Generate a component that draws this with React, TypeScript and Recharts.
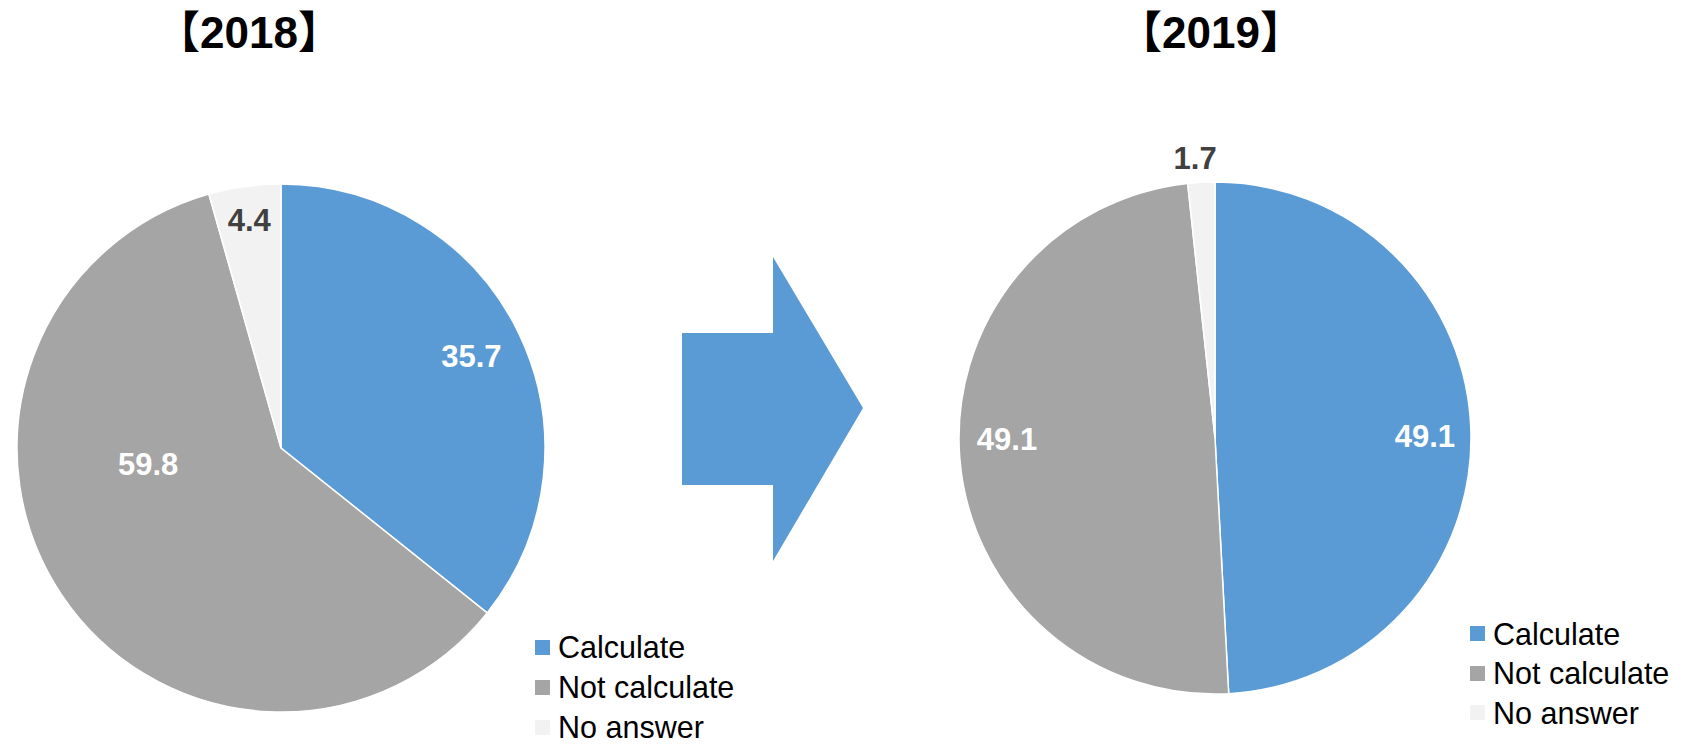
import React from 'react';
import { PieChart, Pie, Cell, Legend } from 'recharts';

const CATEGORIES = ['Calculate', 'Not calculate', 'No answer'];
const VALUES_2018 = [35.7, 59.8, 4.4];
const VALUES_2019 = [49.1, 49.1, 1.7];
const TITLES = ['【2018】', '【2019】'];
const COLORS = ['#5B9BD5', '#A5A5A5', '#F2F2F2'];
const LABEL_COLORS = ['#FFFFFF', '#FFFFFF', '#404040'];

const FONT = '"Liberation Sans", Arial, "Noto Sans CJK JP", sans-serif';
const RAD = Math.PI / 180;

type Placement = { f: number; d: number };

function makeData(values: number[]) {
  return CATEGORIES.map((name, i) => ({ name, value: values[i] }));
}

function makeLabel(place: Placement[]) {
  return (props: any) => {
    const { cx, cy, midAngle, outerRadius, index, value } = props;
    const p = place[index];
    const a = (midAngle + p.d) * RAD;
    const r = outerRadius * p.f;
    const x = cx + r * Math.cos(a);
    const y = cy - r * Math.sin(a);
    return (
      <text
        x={x}
        y={y}
        textAnchor="middle"
        dominantBaseline="central"
        fill={LABEL_COLORS[index]}
        fontFamily={FONT}
        fontWeight="bold"
        fontSize={31}
      >
        {value.toFixed(1)}
      </text>
    );
  };
}

function makeLegend(rowH: number) {
  const inner = 24;
  return (props: any) => {
    const payload = [...(props.payload || [])].sort(
      (a: any, b: any) => CATEGORIES.indexOf(a.value) - CATEGORIES.indexOf(b.value)
    );
    return (
      <div style={{ fontFamily: FONT }}>
        {payload.map((e: any, i: number) => (
          <div
            key={i}
            style={{
              display: 'flex',
              alignItems: 'center',
              height: inner,
              marginTop: i === 0 ? (rowH - inner) / 2 : rowH - inner,
            }}
          >
            <span style={{ display: 'inline-block', width: 15, height: 15, background: e.color, marginRight: 8 }} />
            <span style={{ fontSize: 30.5, lineHeight: `${inner}px`, color: '#000', whiteSpace: 'nowrap' }}>{e.value}</span>
          </div>
        ))}
      </div>
    );
  };
}

function PieBlock(props: {
  values: number[];
  left: number;
  width: number;
  cx: number;
  cy: number;
  r: number;
  place: Placement[];
  legendLeft: number;
  legendTop: number;
  rowH: number;
}) {
  const data = makeData(props.values);
  return (
    <div style={{ position: 'absolute', left: props.left, top: 0, width: props.width, height: 745 }}>
      <PieChart width={props.width} height={745} margin={{ top: 0, right: 0, bottom: 0, left: 0 }}>
        <Pie
          data={data}
          dataKey="value"
          nameKey="name"
          cx={props.cx}
          cy={props.cy}
          outerRadius={props.r}
          startAngle={90}
          endAngle={-270}
          stroke="#FFFFFF"
          strokeWidth={1.5}
          isAnimationActive={false}
          labelLine={false}
          label={makeLabel(props.place)}
        >
          {data.map((d, i) => (
            <Cell key={d.name} fill={COLORS[i]} />
          ))}
        </Pie>
        <Legend
          content={makeLegend(props.rowH)}
          wrapperStyle={{ position: 'absolute', left: props.legendLeft, top: props.legendTop, width: 'auto', height: 'auto' }}
        />
      </PieChart>
    </div>
  );
}

export default function App() {
  return (
    <div style={{ position: 'absolute', left: 0, top: 0, width: 1693, height: 745, background: '#fff', overflow: 'hidden' }}>
      <PieBlock
        values={VALUES_2018}
        left={0}
        width={700}
        cx={281}
        cy={448}
        r={264}
        place={[{ f: 0.8, d: 0 }, { f: 0.507, d: -26.7 }, { f: 0.87, d: 0 }]}
        legendLeft={535}
        legendTop={627}
        rowH={40}
      />
      <PieBlock
        values={VALUES_2019}
        left={880}
        width={813}
        cx={335}
        cy={438}
        r={256}
        place={[{ f: 0.82, d: -1.2 }, { f: 0.8125, d: -4.3 }, { f: 1.094, d: 1 }]}
        legendLeft={590}
        legendTop={614}
        rowH={39.5}
      />
      <svg
        width={1693}
        height={745}
        style={{ position: 'absolute', left: 0, top: 0, pointerEvents: 'none' }}
      >
        <polygon points="682,333 773,333 773,257 863,408 773,561 773,485 682,485" fill="#5B9BD5" />
        <text x={249} y={48} textAnchor="middle" fontFamily={FONT} fontWeight="bold" fontSize={44} fill="#000">
          {TITLES[0]}
        </text>
        <text x={1211} y={48} textAnchor="middle" fontFamily={FONT} fontWeight="bold" fontSize={44} fill="#000">
          {TITLES[1]}
        </text>
      </svg>
    </div>
  );
}
